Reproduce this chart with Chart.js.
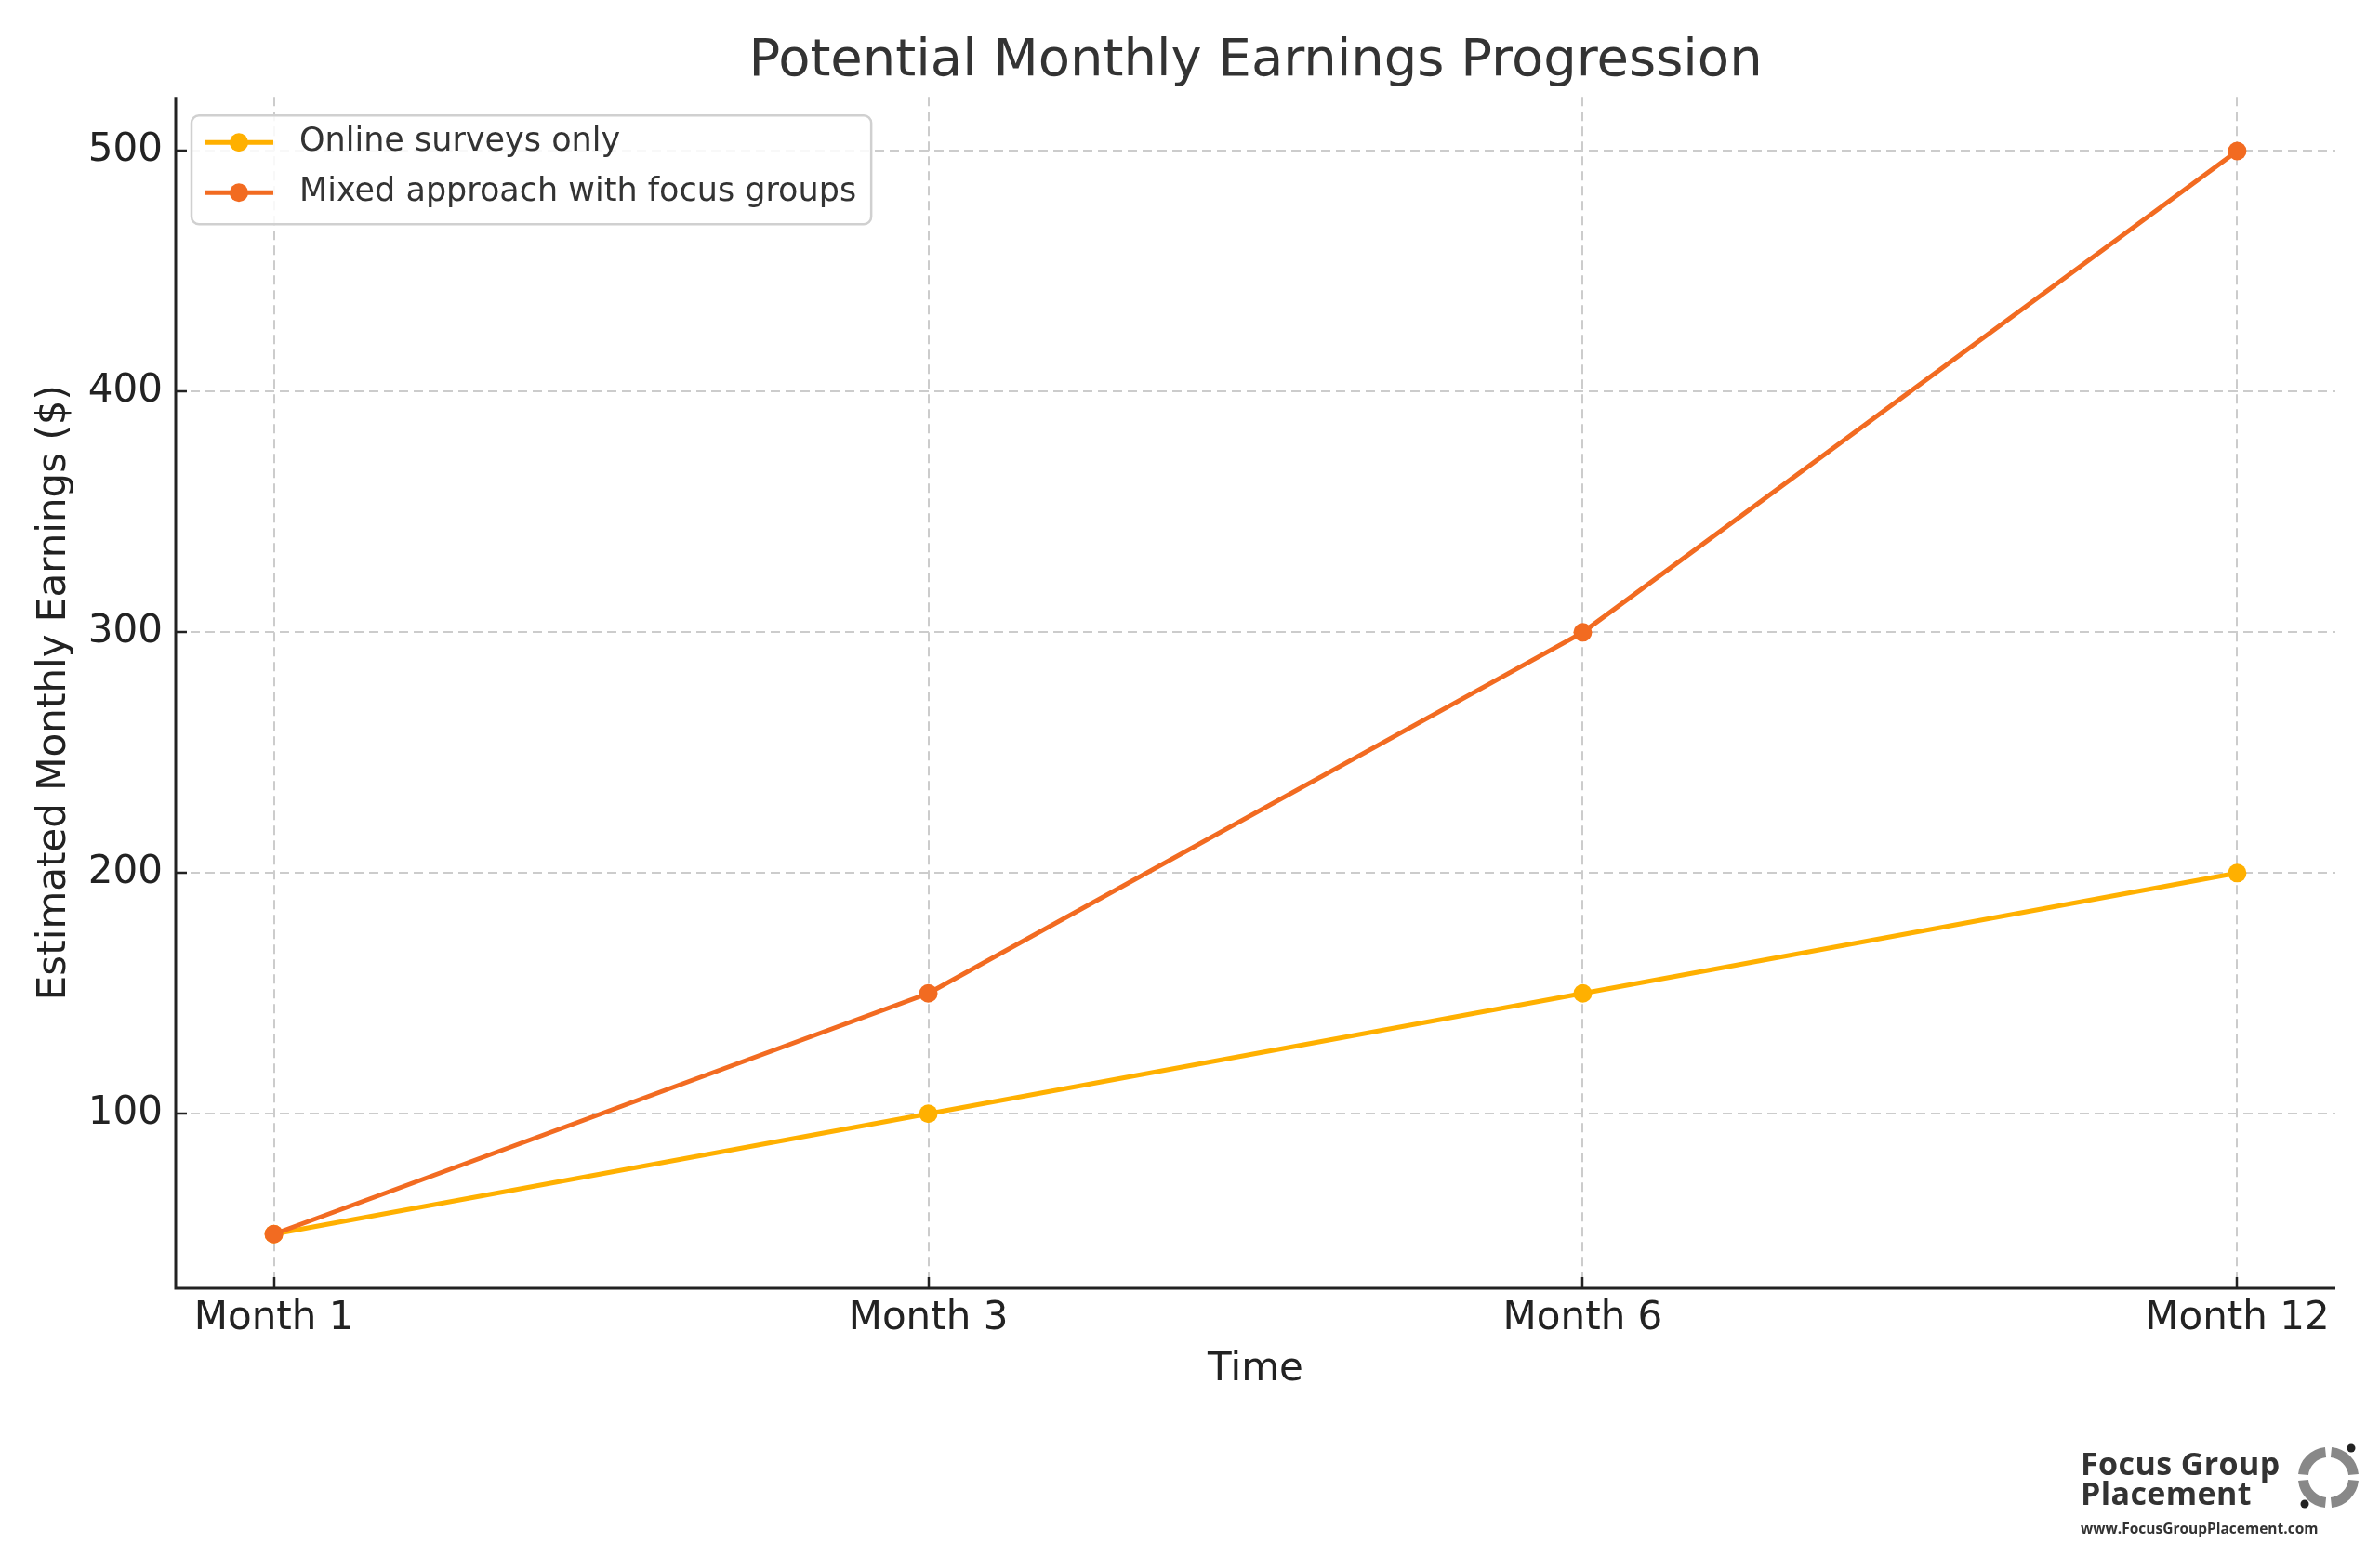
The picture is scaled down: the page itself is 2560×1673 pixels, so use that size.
<!DOCTYPE html>
<html>
<head>
<meta charset="utf-8">
<script src="https://cdn.jsdelivr.net/npm/chart.js@4.4.1/dist/chart.umd.min.js"></script>
<style>
  body { margin: 0; background: #fff; }
  #wrap { position: relative; width: 2560px; height: 1673px; }
  #logo { position: absolute; left: 2238px; top: 1558px; font-family: "Open Sans", sans-serif; color: #333; }
  #logo .name { font-weight: 700; font-size: 34px; line-height: 32px; letter-spacing: 0.4px; }
  #logo .url { font-weight: 700; font-size: 15.5px; margin-top: 11px; }
  #logo svg { position: absolute; left: 228px; top: -6px; }
</style>
</head>
<body>
<div id="wrap">
  <canvas id="earningsChart" width="2560" height="1673"></canvas>
  <div id="logo">
    <div class="name">Focus Group<br>Placement</div>
    <div class="url">www.FocusGroupPlacement.com</div>
    <svg width="80" height="80" viewBox="0 0 80 80">
      <g fill="none" stroke="#888" stroke-width="11">
        <path d="M 41.5 10.5 A 27 27 0 0 1 65.5 34.5" />
        <path d="M 65.5 40.5 A 27 27 0 0 1 41.5 64.5" />
        <path d="M 35.5 64.5 A 27 27 0 0 1 11.5 40.5" />
        <path d="M 11.5 34.5 A 27 27 0 0 1 35.5 10.5" />
      </g>
      <circle cx="63" cy="6" r="4.5" fill="#222" />
      <circle cx="13" cy="66" r="4.5" fill="#222" />
    </svg>
  </div>
</div>
<script>
// chart data
var months = ['Month 1', 'Month 3', 'Month 6', 'Month 12'];
var onlineSurveys = [50, 100, 150, 200];
var mixedApproach = [50, 150, 300, 500];
var yTickValues = [100, 200, 300, 400, 500];

var seriesNames = ['Online surveys only', 'Mixed approach with focus groups'];
var seriesColors = ['#FFB000', '#F26B21'];

function toPoints(values) {
    return values.map(function(v, i) { return { x: i, y: v }; });
}

var allValues = onlineSurveys.concat(mixedApproach);
var lo = Math.min.apply(null, allValues);
var hi = Math.max.apply(null, allValues);
var yPad = (hi - lo) * 0.05;
var xPad = (months.length - 1) * 0.05;

var FONT = "'DejaVu Sans', sans-serif";

// axes lines, inward ticks and the boxed legend
var decorPlugin = {
    id: 'decor',
    afterDraw: function(chart) {
        var ctx = chart.ctx;
        var ca = chart.chartArea;
        var xs = chart.scales.x, ys = chart.scales.y;
        ctx.save();
        ctx.strokeStyle = '#222';
        ctx.lineWidth = 2.5;
        xs.ticks.forEach(function(t) {
            var px = Math.round(xs.getPixelForValue(t.value));
            ctx.beginPath();
            ctx.moveTo(px, ca.bottom);
            ctx.lineTo(px, ca.bottom - 12);
            ctx.stroke();
        });
        ys.ticks.forEach(function(t) {
            var py = Math.round(ys.getPixelForValue(t.value));
            ctx.beginPath();
            ctx.moveTo(ca.left, py);
            ctx.lineTo(ca.left + 12, py);
            ctx.stroke();
        });
        ctx.lineWidth = 3;
        ctx.beginPath();
        ctx.moveTo(ca.left, ca.top);
        ctx.lineTo(ca.left, ca.bottom);
        ctx.lineTo(ca.right, ca.bottom);
        ctx.stroke();

        // legend
        ctx.font = '35px ' + FONT;
        var maxW = 0;
        chart.data.datasets.forEach(function(ds) {
            maxW = Math.max(maxW, ctx.measureText(ds.label).width);
        });
        var bx = ca.left + 17, by = ca.top + 20;
        var bw = 116 + maxW + 16, bh = 117;
        ctx.beginPath();
        ctx.roundRect(bx, by, bw, bh, 8);
        ctx.fillStyle = 'rgba(255,255,255,0.85)';
        ctx.fill();
        ctx.strokeStyle = '#d0d0d0';
        ctx.lineWidth = 2.5;
        ctx.stroke();
        chart.data.datasets.forEach(function(ds, i) {
            var cy = by + 29 + i * 54;
            ctx.strokeStyle = ds.borderColor;
            ctx.lineWidth = 5;
            ctx.beginPath();
            ctx.moveTo(bx + 14, cy);
            ctx.lineTo(bx + 88, cy);
            ctx.stroke();
            ctx.fillStyle = ds.borderColor;
            ctx.beginPath();
            ctx.arc(bx + 51, cy, 10, 0, Math.PI * 2);
            ctx.fill();
            ctx.fillStyle = '#333';
            ctx.textBaseline = 'middle';
            ctx.textAlign = 'left';
            ctx.fillText(ds.label, bx + 116, cy);
        });
        ctx.restore();
    }
};

var ctx = document.getElementById('earningsChart').getContext('2d');

var myLineChart = new Chart(ctx, {
    type: 'line',
    data: {
        datasets: [{
            label: seriesNames[0],
            data: toPoints(onlineSurveys),
            borderColor: seriesColors[0],
            backgroundColor: seriesColors[0],
            pointBackgroundColor: seriesColors[0],
            borderWidth: 5,
            pointRadius: 10,
            pointBorderWidth: 0,
            order: 2
        }, {
            label: seriesNames[1],
            data: toPoints(mixedApproach),
            borderColor: seriesColors[1],
            backgroundColor: seriesColors[1],
            pointBackgroundColor: seriesColors[1],
            borderWidth: 5,
            pointRadius: 10,
            pointBorderWidth: 0,
            order: 1
        }]
    },
    options: {
        responsive: false,
        animation: false,
        devicePixelRatio: 1,
        layout: { padding: { left: 0, right: 48, top: 0, bottom: 0 } },
        plugins: {
            legend: { display: false },
            tooltip: { enabled: false },
            title: {
                display: true,
                text: 'Potential Monthly Earnings Progression',
                fullSize: false,
                color: '#333',
                font: { family: FONT, size: 56, weight: 'normal', lineHeight: 1.2 },
                padding: { top: 33, bottom: 4 }
            }
        },
        scales: {
            x: {
                type: 'linear',
                min: -xPad,
                max: months.length - 1 + xPad,
                afterBuildTicks: function(scale) {
                    scale.ticks = months.map(function(m, i) { return { value: i }; });
                },
                afterFit: function(scale) { scale.height = 287; },
                ticks: {
                    color: '#222',
                    padding: 8,
                    maxRotation: 0,
                    font: { family: FONT, size: 42 },
                    callback: function(v) { return months[v]; }
                },
                grid: { color: '#cccccc', lineWidth: 2, drawTicks: false },
                border: { display: false, dash: [10, 6] },
                title: {
                    display: true,
                    text: 'Time',
                    color: '#222',
                    font: { family: FONT, size: 42, lineHeight: 1.2 },
                    padding: { top: 0, bottom: 174 }
                }
            },
            y: {
                min: lo - yPad,
                max: hi + yPad,
                afterBuildTicks: function(scale) {
                    scale.ticks = yTickValues.map(function(v) { return { value: v }; });
                },
                afterFit: function(scale) { scale.width = 189; },
                ticks: {
                    color: '#222',
                    padding: 14,
                    font: { family: FONT, size: 42 }
                },
                grid: { color: '#cccccc', lineWidth: 2, drawTicks: false },
                border: { display: false, dash: [10, 6] },
                title: {
                    display: true,
                    text: 'Estimated Monthly Earnings ($)',
                    color: '#222',
                    font: { family: FONT, size: 42, lineHeight: 1.2 },
                    padding: { top: 34, bottom: 0 }
                }
            }
        }
    },
    plugins: [decorPlugin]
});
</script>
</body>
</html>
